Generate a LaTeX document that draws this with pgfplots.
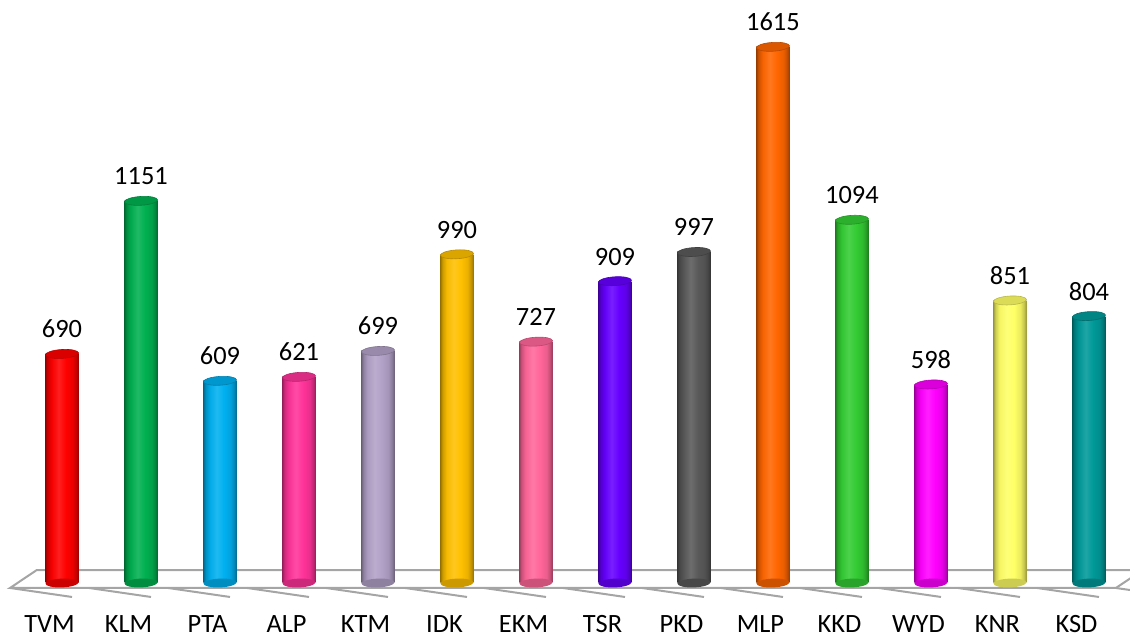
\documentclass[border=0pt]{standalone}
\usepackage{pgfplots}
\pgfplotsset{compat=1.18}
\usepackage{fontspec}
\setmainfont{Carlito}

% cylinder top / bottom caps
\pgfdeclareplotmark{cyltop}{%
  \pgfpathellipse{\pgfpointorigin}{\pgfpoint{8.25pt}{0.5pt}}{\pgfpoint{-0.15pt}{2.2pt}}%
  \pgfusepathqfillstroke}
\pgfdeclareplotmark{cylbot}{%
  \pgfpathellipse{\pgfpointorigin}{\pgfpoint{8.25pt}{0.3pt}}{\pgfpoint{0pt}{2.2pt}}%
  \pgfusepathqfill}

\definecolor{cTVM}{RGB}{255,0,0}
\definecolor{cKLM}{RGB}{0,176,80}
\definecolor{cPTA}{RGB}{0,176,240}
\definecolor{cALP}{RGB}{255,51,153}
\definecolor{cKTM}{RGB}{178,161,199}
\definecolor{cIDK}{RGB}{255,192,0}
\definecolor{cEKM}{RGB}{255,102,153}
\definecolor{cTSR}{RGB}{102,0,255}
\definecolor{cPKD}{RGB}{89,89,89}
\definecolor{cMLP}{RGB}{255,102,0}
\definecolor{cKKD}{RGB}{51,204,51}
\definecolor{cWYD}{RGB}{255,0,255}
\definecolor{cKNR}{RGB}{255,255,102}
\definecolor{cKSD}{RGB}{0,153,153}
\definecolor{floorgray}{RGB}{165,165,165}

% side shading of a cylinder (visible part is 25bp..75bp)
\newcommand\cylshade[1]{%
  \pgfdeclarehorizontalshading{cyl#1}{100bp}{%
    color(0bp)=(c#1!62!black); color(25bp)=(c#1!62!black);
    color(28bp)=(c#1!80!black); color(34bp)=(c#1!96!black);
    color(45bp)=(c#1!88!white); color(56bp)=(c#1);
    color(66bp)=(c#1!92!black); color(71bp)=(c#1!78!black);
    color(75bp)=(c#1!60!black); color(100bp)=(c#1!60!black)}}
\cylshade{TVM}\cylshade{KLM}\cylshade{PTA}\cylshade{ALP}\cylshade{KTM}
\cylshade{IDK}\cylshade{EKM}\cylshade{TSR}\cylshade{PKD}\cylshade{MLP}
\cylshade{KKD}\cylshade{WYD}\cylshade{KNR}\cylshade{KSD}

\pgfplotsset{
  cyl/.style={ybar, bar width=16.5pt, bar shift=0pt, draw=none,
    shading=cyl#1,
    mark=cyltop, mark options={fill=c#1!86!black, draw=c#1!72!black, line width=0.3pt},
    nodes near coords},
  cylb/.style={only marks, mark=cylbot, mark options={fill=c#1!80!black}},
}

\begin{document}
\begin{tikzpicture}
\begin{axis}[
  set layers,
  scale only axis,
  width=565pt, height=291.5pt,
  xmin=-0.785, xmax=13.52,
  ymin=0, ymax=1756,
  clip=false,
  axis line style={draw=none},
  major tick length=0pt,
  ytick=\empty,
  xtick={-0.158,0.842,1.842,2.842,3.842,4.842,5.842,6.842,7.842,8.842,9.842,10.842,11.842,12.842},
  xticklabels={TVM,KLM,PTA,ALP,KTM,IDK,EKM,TSR,PKD,MLP,KKD,WYD,KNR,KSD},
  xticklabel style={anchor=base, yshift=-25pt, font=\fontsize{13.2}{15}\selectfont},
  /pgf/number format/assume math mode=true,
  /pgf/number format/1000 sep={},
  /pgf/number format/precision=0,
  nodes near coords style={anchor=base, yshift=8pt, font=\fontsize{13.2}{15}\selectfont, text=black},
]
\begin{pgfonlayer}{axis background}
  \draw[floorgray, line width=1pt]
    (axis cs:13.68,39) -- (axis cs:-0.32,39) -- (axis cs:-0.658,-15) -- (axis cs:13.342,-15) -- (axis cs:13.68,39);
  \draw[floorgray, line width=1pt]
    (axis cs:-0.658,-15) -- ++(0,-4.5pt)
    (axis cs:0.342,-15) -- ++(0,-4.5pt)
    (axis cs:1.342,-15) -- ++(0,-4.5pt)
    (axis cs:2.342,-15) -- ++(0,-4.5pt)
    (axis cs:3.342,-15) -- ++(0,-4.5pt)
    (axis cs:4.342,-15) -- ++(0,-4.5pt)
    (axis cs:5.342,-15) -- ++(0,-4.5pt)
    (axis cs:6.342,-15) -- ++(0,-4.5pt)
    (axis cs:7.342,-15) -- ++(0,-4.5pt)
    (axis cs:8.342,-15) -- ++(0,-4.5pt)
    (axis cs:9.342,-15) -- ++(0,-4.5pt)
    (axis cs:10.342,-15) -- ++(0,-4.5pt)
    (axis cs:11.342,-15) -- ++(0,-4.5pt)
    (axis cs:12.342,-15) -- ++(0,-4.5pt)
    (axis cs:13.342,-15) -- ++(0,-4.5pt);
\end{pgfonlayer}

\addplot[cylb=TVM] coordinates {(0,0)};
\addplot[cyl=TVM] coordinates {(0,690)};
\addplot[cylb=KLM] coordinates {(1,0)};
\addplot[cyl=KLM] coordinates {(1,1151)};
\addplot[cylb=PTA] coordinates {(2,0)};
\addplot[cyl=PTA] coordinates {(2,609)};
\addplot[cylb=ALP] coordinates {(3,0)};
\addplot[cyl=ALP] coordinates {(3,621)};
\addplot[cylb=KTM] coordinates {(4,0)};
\addplot[cyl=KTM] coordinates {(4,699)};
\addplot[cylb=IDK] coordinates {(5,0)};
\addplot[cyl=IDK] coordinates {(5,990)};
\addplot[cylb=EKM] coordinates {(6,0)};
\addplot[cyl=EKM] coordinates {(6,727)};
\addplot[cylb=TSR] coordinates {(7,0)};
\addplot[cyl=TSR] coordinates {(7,909)};
\addplot[cylb=PKD] coordinates {(8,0)};
\addplot[cyl=PKD] coordinates {(8,997)};
\addplot[cylb=MLP] coordinates {(9,0)};
\addplot[cyl=MLP] coordinates {(9,1615)};
\addplot[cylb=KKD] coordinates {(10,0)};
\addplot[cyl=KKD] coordinates {(10,1094)};
\addplot[cylb=WYD] coordinates {(11,0)};
\addplot[cyl=WYD] coordinates {(11,598)};
\addplot[cylb=KNR] coordinates {(12,0)};
\addplot[cyl=KNR] coordinates {(12,851)};
\addplot[cylb=KSD] coordinates {(13,0)};
\addplot[cyl=KSD] coordinates {(13,804)};
\end{axis}
\pgfresetboundingbox
\useasboundingbox (0,-27pt) rectangle (565pt,291.5pt);
\end{tikzpicture}
\end{document}
